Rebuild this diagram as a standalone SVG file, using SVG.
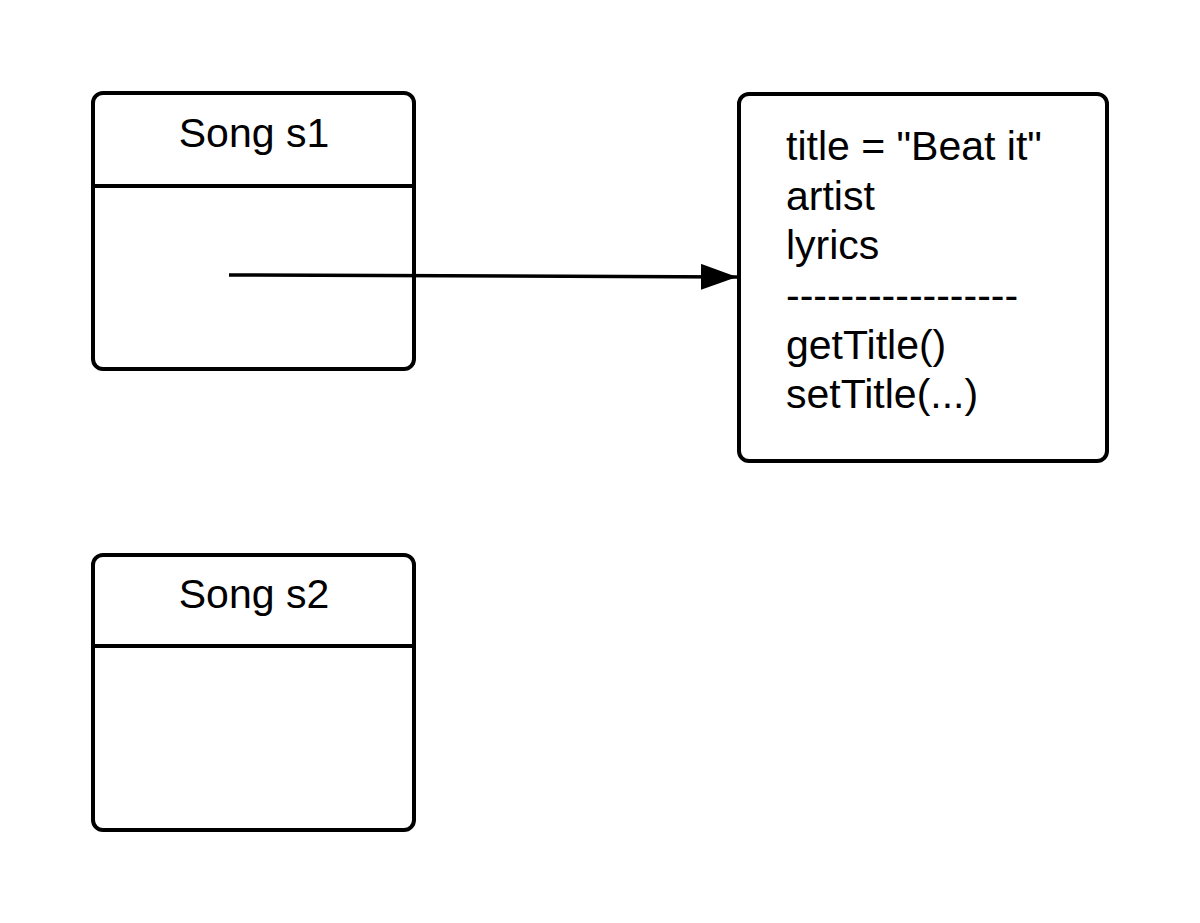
<svg xmlns="http://www.w3.org/2000/svg" width="1200" height="923" viewBox="0 0 1200 923">
<style>
.box{fill:#fff;stroke:#000;stroke-width:4}
.div{stroke:#000;stroke-width:4}
.t{font-family:"Liberation Sans",Arial,sans-serif;font-size:41px;fill:#000}
.c{text-anchor:middle}
.conn{stroke:#000;stroke-width:3.5;fill:none}
</style>
<defs>
<marker id="arr" markerUnits="userSpaceOnUse" markerWidth="40" markerHeight="30" refX="36" refY="13" orient="auto">
<path d="M0,0 L36,13 L0,26 Z" fill="#000"/>
</marker>
</defs>
<rect width="1200" height="923" fill="#fff"/>
<g id="song-s1">
<rect class="box" x="93" y="93" width="321" height="276" rx="10"/>
<line class="div" x1="93" y1="186" x2="414" y2="186"/>
<text class="t c" x="254" y="147">Song s1</text>
</g>
<g id="song-s2">
<rect class="box" x="93" y="555" width="321" height="275" rx="10"/>
<line class="div" x1="93" y1="646" x2="414" y2="646"/>
<text class="t c" x="254" y="608">Song s2</text>
</g>
<g id="object">
<rect class="box" x="739" y="94" width="368" height="367" rx="10"/>
<text class="t" x="786" y="160">title = "Beat it"</text>
<text class="t" x="786" y="210">artist</text>
<text class="t" x="786" y="259">lyrics</text>
<text class="t" x="786" y="309">-----------------</text>
<text class="t" x="786" y="359">getTitle()</text>
<text class="t" x="786" y="408">setTitle(...)</text>
</g>
<g id="connectors">
<path class="conn" d="M229,275 L737,277" marker-end="url(#arr)"/>
</g>
</svg>
